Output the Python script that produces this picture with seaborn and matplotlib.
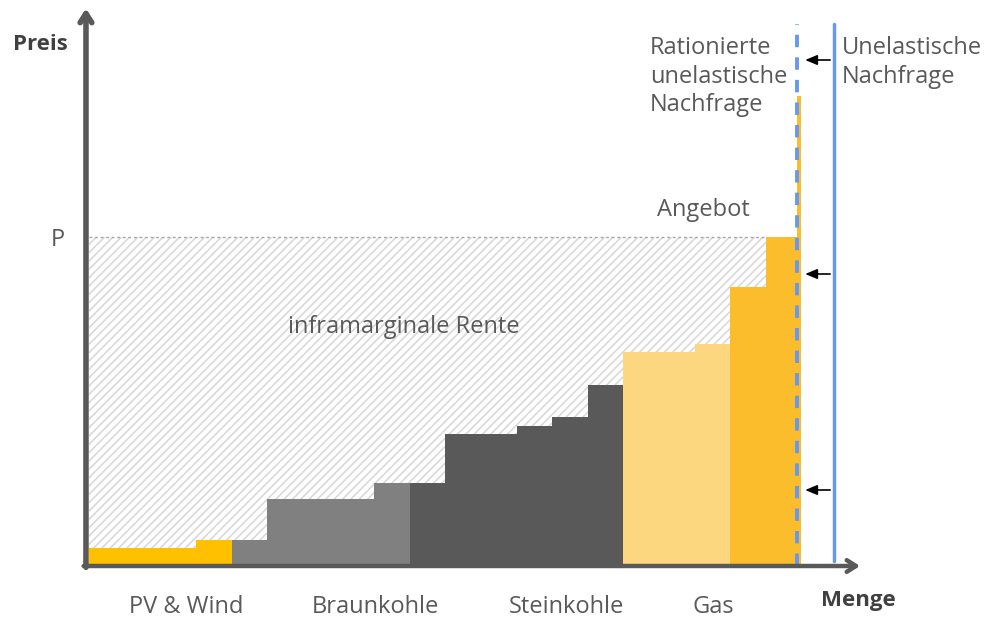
import numpy as np
import matplotlib
matplotlib.use("Agg")
import matplotlib.pyplot as plt
import seaborn as sns

# Merit-Order: Kraftwerksblöcke (Breite = Kapazität, Höhe = Grenzkosten, P = 100)
block_widths = [3, 1, 1, 3, 1, 1, 2, 1, 1, 1, 2, 1, 1, 0.87, 0.1]
block_prices = [5.5, 7.9, 7.9, 20.4, 25.2, 25.2, 40.1, 42.6, 45.3, 55.0, 65.0, 67.5, 84.8, 100.0, 143.0]
block_types = ["PV & Wind", "PV & Wind", "Braunkohle", "Braunkohle", "Braunkohle",
               "Steinkohle", "Steinkohle", "Steinkohle", "Steinkohle", "Steinkohle",
               "Gas_a", "Gas_a", "Gas_b", "Gas_b", "Gas_b"]
type_colors = {"PV & Wind": "#FFC000", "Braunkohle": "#808080", "Steinkohle": "#595959",
               "Gas_a": "#FDD77F", "Gas_b": "#FBBD2B"}

category_labels = ["PV & Wind", "Braunkohle", "Steinkohle", "Gas"]
category_label_x = [2.72, 8.03, 13.39, 17.51]

price_p = 100.0
demand_rationed = 19.88
demand_inelastic = 20.91

sns.set_theme(style="white")
plt.rcParams["font.family"] = ["Open Sans", "DejaVu Sans"]
plt.rcParams["hatch.linewidth"] = 1.2
plt.rcParams["hatch.color"] = "#d9d9d9"

text_color = "#595959"

# Pixelmaßstab: 1 Mengeneinheit = 35.63 px, 1 Preiseinheit = 3.29 px
ux, uy = 35.63, 3.29
fig = plt.figure(figsize=(9.85, 6.18), dpi=100)
ax = fig.add_axes([0, 0, 1, 1])
ax.set_xlim(-89 / ux, (985 - 89) / ux)
ax.set_ylim(-(618 - 566) / uy, 566 / uy)
ax.axis("off")

lefts = np.concatenate([[0], np.cumsum(block_widths)[:-1]])

# inframarginale Rente (schraffiert bis P)
ax.fill_between([0, demand_rationed], 0, price_p, facecolor="white",
                edgecolor="#d9d9d9", hatch="////", lw=0, zorder=1)
ax.plot([0, lefts[-2]], [price_p, price_p], color="#a6a6a6", lw=1,
        linestyle=(0, (2, 2)), zorder=2)

# Angebotskurve (Blöcke)
ax.bar(lefts, block_prices, width=block_widths, align="edge",
       color=[type_colors[t] for t in block_types], lw=0, zorder=3)

# Nachfrage
ax.plot([demand_rationed, demand_rationed], [0, 164.7], color="#6699EE", lw=2.8,
        linestyle=(0, (3.2, 2.6)), zorder=4)
ax.plot([demand_inelastic, demand_inelastic], [1.5, 164.7], color="#6699EE", lw=2.5, zorder=4)

for yy in [153.8, 88.75, 23.1]:
    ax.annotate("", xy=(20.1, yy), xytext=(20.8, yy),
                arrowprops=dict(arrowstyle="-|>,head_length=0.6,head_width=0.25",
                                color="black", lw=1.2, shrinkA=0, shrinkB=0), zorder=5)

# Achsen
axis_color = "#595959"
ax.annotate("", xy=(-0.085, 169.5), xytext=(-0.085, -0.4),
            arrowprops=dict(arrowstyle="->,head_length=0.55,head_width=0.35",
                            color=axis_color, lw=4, shrinkA=0, shrinkB=0), zorder=6)
ax.annotate("", xy=(21.64, 0), xytext=(-0.15, 0),
            arrowprops=dict(arrowstyle="->,head_length=0.55,head_width=0.35",
                            color=axis_color, lw=3.2, shrinkA=0, shrinkB=0), zorder=6)

# Texte
fs = 17
ax.text(-1.37, 158.5, "Preis", fontsize=16, fontweight="bold", color="#404040",
        ha="center", va="center")
ax.text(21.58, -10.5, "Menge", fontsize=16, fontweight="bold", color="#404040",
        ha="center", va="center")
ax.text(-0.87, price_p - 1, "P", fontsize=fs, color=text_color, ha="center", va="center")
for lab, xx in zip(category_labels, category_label_x):
    ax.text(xx, -12.4, lab, fontsize=fs, color=text_color, ha="center", va="center")
ax.text(8.84, 72.6, "inframarginale Rente", fontsize=fs, color=text_color,
        ha="center", va="center")
ax.text(17.23, 108.2, "Angebot", fontsize=fs, color=text_color, ha="center", va="center")
ax.text(15.75, 161.0, "Rationierte\nunelastische\nNachfrage", fontsize=fs,
        color=text_color, ha="left", va="top", linespacing=1.25)
ax.text(21.13, 161.0, "Unelastische\nNachfrage", fontsize=fs,
        color=text_color, ha="left", va="top", linespacing=1.25)

fig.savefig("out.png", dpi=100)
